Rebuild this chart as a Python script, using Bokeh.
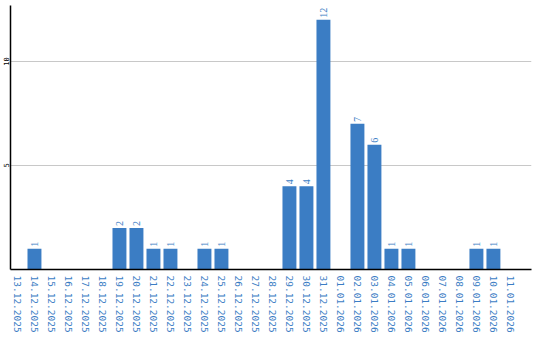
import math
from bokeh.plotting import figure
from bokeh.models import ColumnDataSource, FixedTicker, Range1d, LabelSet
from bokeh.embed import file_html
from bokeh.resources import INLINE

dates = ["13.12.2025", "14.12.2025", "15.12.2025", "16.12.2025", "17.12.2025",
         "18.12.2025", "19.12.2025", "20.12.2025", "21.12.2025", "22.12.2025",
         "23.12.2025", "24.12.2025", "25.12.2025", "26.12.2025", "27.12.2025",
         "28.12.2025", "29.12.2025", "30.12.2025", "31.12.2025", "01.01.2026",
         "02.01.2026", "03.01.2026", "04.01.2026", "05.01.2026", "06.01.2026",
         "07.01.2026", "08.01.2026", "09.01.2026", "10.01.2026", "11.01.2026"]
counts = [0, 1, 0, 0, 0, 0, 2, 2, 1, 1, 0, 1, 1, 0, 0, 0, 4, 4, 12, 0,
          7, 6, 1, 1, 0, 0, 0, 1, 1, 0]
y_ticks = [5, 10]

BLUE = "#3b7dc4"

xs = list(range(len(dates)))
src = ColumnDataSource(dict(x=xs, y=counts))
nz = [(i, c) for i, c in zip(xs, counts) if c > 0]
lab = ColumnDataSource(dict(x=[i for i, _ in nz], y=[c for _, c in nz],
                            t=[str(c) for _, c in nz]))

p = figure(width=540, height=340, output_backend="svg", toolbar_location=None,
           x_range=Range1d(-0.41, 30.24), y_range=Range1d(0, 12.69),
           min_border_left=10, min_border_top=5, min_border_right=9, min_border_bottom=71)
p.outline_line_color = None
p.background_fill_color = "white"
p.border_fill_color = "white"

p.vbar(x="x", top="y", width=0.82, source=src, fill_color=BLUE, line_color=None)
labels = LabelSet(x="x", y="y", text="t", source=lab, angle=math.pi / 2,
                  x_offset=0, y_offset=2, text_align="left", text_baseline="middle",
                  text_color=BLUE, text_font="DejaVu Sans Mono", text_font_size="10px")
p.add_layout(labels)

p.xaxis.ticker = FixedTicker(ticks=xs)
p.xaxis.major_label_overrides = {i: d for i, d in enumerate(dates)}
p.xaxis.major_label_orientation = "vertical"
p.xaxis.major_label_text_color = BLUE
p.xaxis.major_label_text_font = "DejaVu Sans Mono"
p.xaxis.major_label_text_font_size = "9.5px"
p.xaxis.major_label_standoff = 6
p.xaxis.major_tick_line_color = None
p.xaxis.major_tick_out = 0
p.xaxis.major_tick_in = 0
p.xaxis.minor_tick_line_color = None
p.xaxis.minor_tick_out = 0
p.xaxis.axis_line_color = "black"
p.xaxis.axis_line_width = 1.5

p.yaxis.ticker = FixedTicker(ticks=y_ticks)
p.yaxis.major_label_orientation = "vertical"
p.yaxis.major_label_text_color = "black"
p.yaxis.major_label_text_font = "DejaVu Sans Mono"
p.yaxis.major_label_text_font_size = "7px"
p.yaxis.major_label_standoff = 1
p.yaxis.major_tick_line_color = None
p.yaxis.major_tick_out = 0
p.yaxis.major_tick_in = 0
p.yaxis.minor_tick_line_color = None
p.yaxis.minor_tick_out = 0
p.yaxis.axis_line_color = "black"
p.yaxis.axis_line_width = 1.5

p.xgrid.grid_line_color = None
p.ygrid.ticker = FixedTicker(ticks=y_ticks)
p.ygrid.grid_line_color = "#c8c8c8"

open("out.html", "w").write(file_html(p, INLINE))
